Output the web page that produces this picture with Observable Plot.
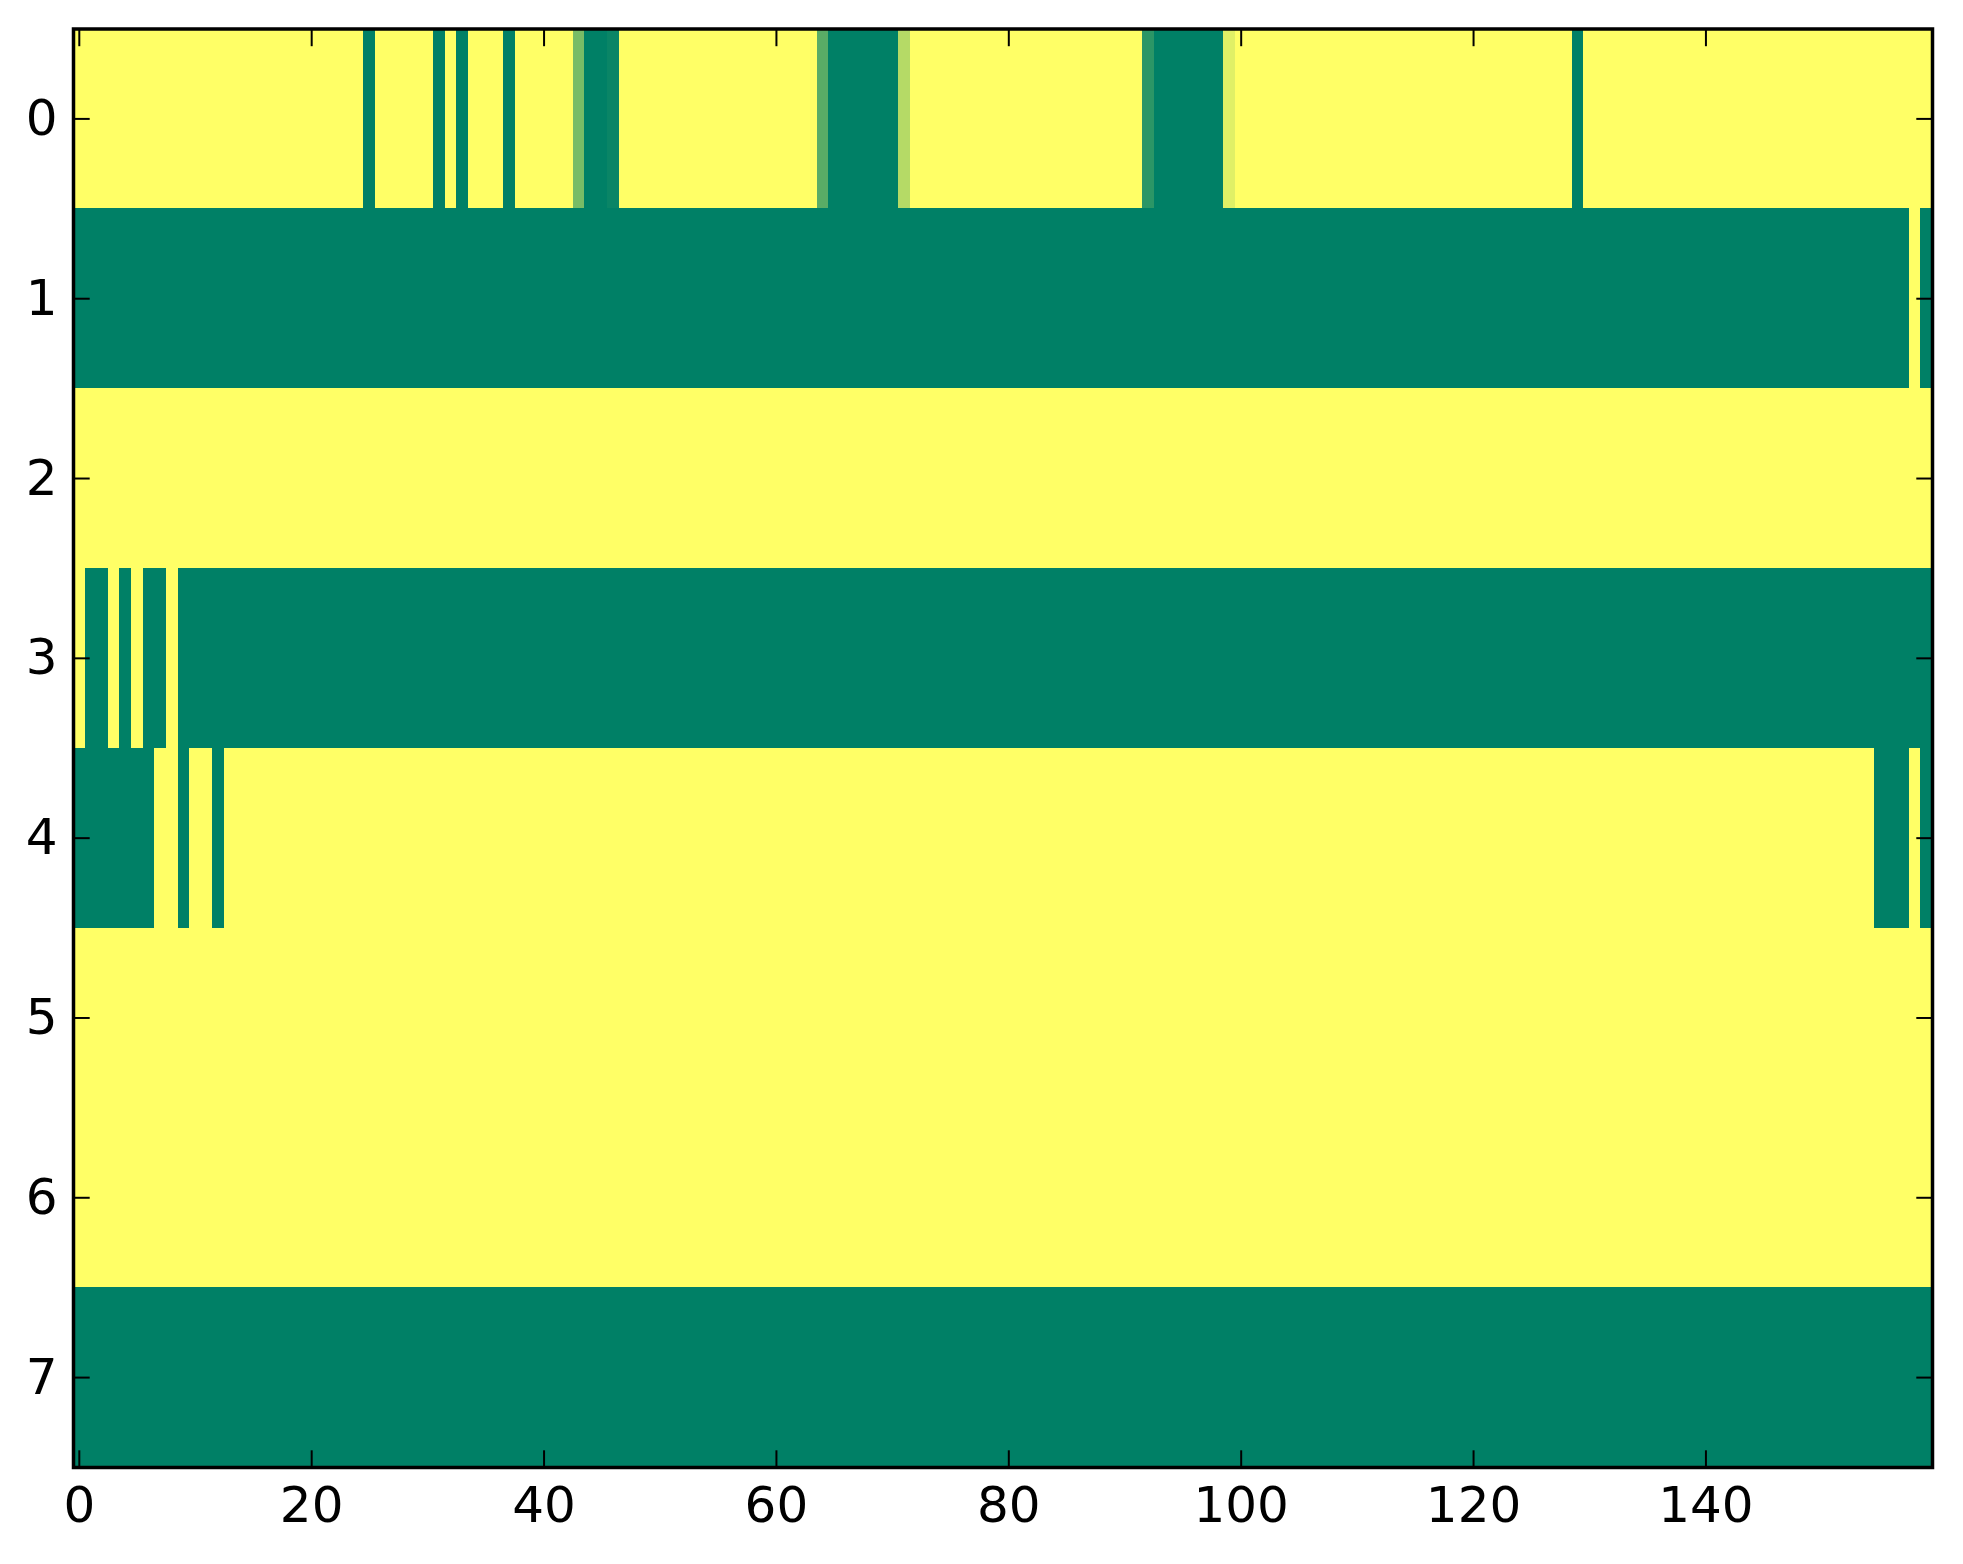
<!DOCTYPE html>
<html>
<head>
<meta charset="utf-8">
<script src="https://cdn.jsdelivr.net/npm/d3@7"></script>
<script src="https://cdn.jsdelivr.net/npm/@observablehq/plot@0.6"></script>
<style>
  html, body { margin: 0; padding: 0; background: #fff; }
  #chart svg { display: block; }
</style>
</head>
<body>
<div id="chart"></div>
<script>
// Tick labels
const xTicks = [0, 20, 40, 60, 80, 100, 120, 140];
const yTicks = [0, 1, 2, 3, 4, 5, 6, 7];

// Each row: runs of [firstColumn, lastColumn, value] (value 0 = green, 1 = yellow)
const row0 = [[0,24,1],[25,25,0],[26,30,1],[31,31,0],[32,32,1],[33,33,0],[34,36,1],[37,37,0],[38,42,1],
              [43,43,0.47],[44,45,0],[46,46,0.04],[47,63,1],[64,64,0.35],[65,70,0],[71,71,0.71],
              [72,91,1],[92,92,0.17],[93,98,0],[99,99,0.88],[100,128,1],[129,129,0],[130,159,1]];
const row1 = [[0,157,0],[158,158,1],[159,159,0]];
const row2 = [[0,159,1]];
const row3 = [[0,0,1],[1,2,0],[3,3,1],[4,4,0],[5,5,1],[6,7,0],[8,8,1],[9,159,0]];
const row4 = [[0,6,0],[7,8,1],[9,9,0],[10,11,1],[12,12,0],[13,154,1],[155,157,0],[158,158,1],[159,159,0]];
const row5 = [[0,159,1]];
const row6 = [[0,159,1]];
const row7 = [[0,159,0]];

const rows = [row0, row1, row2, row3, row4, row5, row6, row7];
const runs = rows.flatMap((runsOfRow, r) =>
  runsOfRow.map(([a, b, v]) => ({row: r, from: a, to: b, value: v})));

const W = 1963, H = 1564;
const chart = Plot.plot({
  width: W,
  height: H,
  marginLeft: 73,
  marginRight: 31,
  marginTop: 28.5,
  marginBottom: 97,
  style: {fontFamily: "DejaVu Sans", fontSize: "50px", color: "black", background: "white"},
  x: {domain: [-0.5, 159.5], axis: null},
  y: {domain: [7.5, -0.5], axis: null},
  color: {type: "linear", domain: [0, 1], range: ["#008066", "#ffff66"], interpolate: "rgb"},
  marks: [
    Plot.rect(runs, {
      x1: d => d.from - 0.5,
      x2: d => d.to + 0.5,
      y1: d => d.row - 0.5,
      y2: d => d.row + 0.5,
      fill: "value",
      shapeRendering: "crispEdges"
    }),
    // inward ticks on all four sides
    Plot.axisX({anchor: "bottom", ticks: xTicks, tickSize: -16.7, tickFormat: () => "", strokeWidth: 2, label: null}),
    Plot.axisX({anchor: "top", ticks: xTicks, tickSize: -16.7, tickFormat: () => "", strokeWidth: 2, label: null}),
    Plot.axisY({anchor: "left", ticks: yTicks, tickSize: -16.7, tickFormat: () => "", strokeWidth: 2, label: null}),
    Plot.axisY({anchor: "right", ticks: yTicks, tickSize: -16.7, tickFormat: () => "", strokeWidth: 2, label: null}),
    // tick labels
    Plot.axisX({anchor: "bottom", ticks: xTicks, tickSize: 0, tickPadding: 19, tickFormat: d => String(d), label: null, fontSize: 50}),
    Plot.axisY({anchor: "left", ticks: yTicks, tickSize: 0, tickPadding: 16, tickFormat: d => String(d), label: null, fontSize: 50}),
    Plot.frame({stroke: "black", strokeWidth: 3.5})
  ]
});
document.getElementById("chart").appendChild(chart);
</script>
</body>
</html>
